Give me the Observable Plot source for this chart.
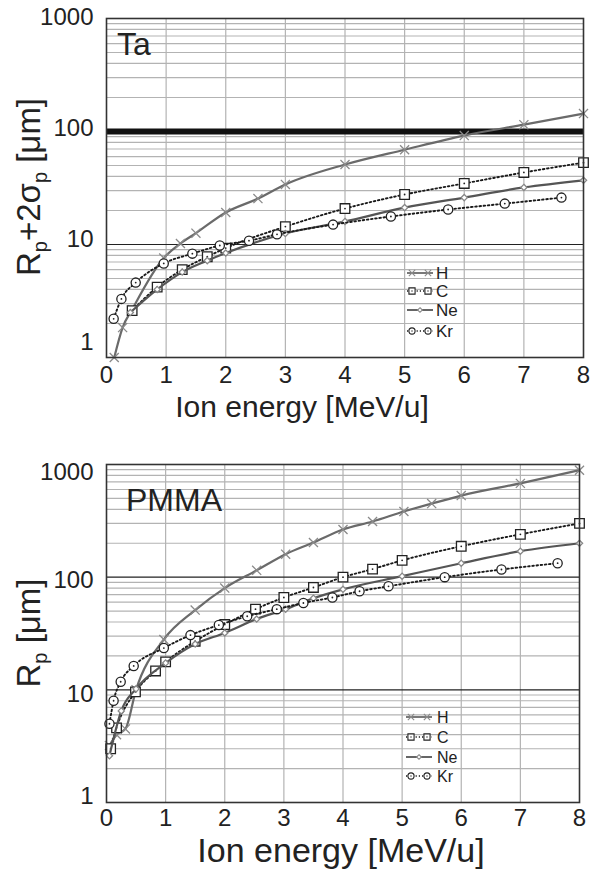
<!DOCTYPE html>
<html><head><meta charset="utf-8">
<script src="https://cdn.jsdelivr.net/npm/d3@7"></script>
<script src="https://cdn.jsdelivr.net/npm/@observablehq/plot@0.6"></script>
<style>
body{margin:0;background:#fff;}
#wrap{position:relative;width:593px;height:876px;font-family:"Liberation Sans",Arial,sans-serif;}
#wrap svg{display:block;}
</style></head><body><div id="wrap"></div>
<script>
// ---- tick / grid values ----
const energyTicks = [0,1,2,3,4,5,6,7,8];
const gridX = [1,2,3,4,5,6,7];
const minorY = [2,3,4,5,6,7,8,9,20,30,40,50,60,70,80,90,200,300,400,500,600,700,800,900];
const seriesNames = ["H","C","Ne","Kr"];

// ---- Ta panel (Rp + 2σp, µm) ----
const taH_E  = [0.13,0.27,0.43,0.96,1.24,1.5,2.0,2.54,3.0,4.0,5.0,6.0,7.0,8.0];
const taH_R  = [1.0,1.84,2.66,7.6,10.2,12.6,19.2,25.5,34,51,69,92,115,144];
const taC_E  = [0.43,0.85,1.27,1.69,2.0,3.0,4.0,5.0,6.0,7.0,8.0];
const taC_R  = [2.6,4.2,6.0,7.8,9.3,14.4,20.8,27.7,34.7,43.4,53];
const taNe_E = [0.4,0.85,1.27,1.69,2.0,3.0,4.0,5.0,6.0,7.0,8.0];
const taNe_R = [2.5,4.0,5.7,7.2,8.4,12.5,16,21.2,26,32,37];
const taKr_E = [0.12,0.25,0.49,0.96,1.44,1.9,2.39,2.86,3.8,4.77,5.73,6.68,7.63];
const taKr_R = [2.2,3.3,4.6,6.8,8.3,9.8,10.8,12.3,15,17.7,20.4,23,26];
const taLimit = [100];

// ---- PMMA panel (Rp, µm) ----
const pmH_E  = [0.05,0.17,0.32,0.5,0.97,1.5,2.0,2.54,3.03,3.5,4.0,4.5,5.03,5.5,6.0,7.0,8.0];
const pmH_R  = [3.2,4.0,4.5,10,28,51,80,115,160,203,265,312,383,450,530,680,890];
const pmC_E  = [0.07,0.17,0.49,0.83,1.0,1.5,2.0,2.52,3.0,3.5,4.0,4.5,5.0,6.0,7.0,8.0];
const pmC_R  = [3.0,4.6,9.6,14.7,17.7,27,38,52,66,81,100,118,141,188,240,300];
const pmNe_E = [0.05,0.25,0.5,1.0,1.5,2.0,2.54,3.03,3.5,4.0,5.0,6.0,7.0,8.0];
const pmNe_R = [2.6,6.5,10.2,17.3,25.5,32,42.5,52,65,78,102,133,170,200];
const pmKr_E = [0.05,0.12,0.24,0.46,0.97,1.42,1.9,2.38,2.88,3.33,3.82,4.28,4.77,5.72,6.68,7.63];
const pmKr_R = [5.0,8.0,11.8,16.3,23.5,30.6,37.6,45,52,59,66,75,83,100,117,133];

const rows = (E, R) => E.map((e, i) => ({E: e, R: R[i]}));

const FONT = '"Liberation Sans", Arial, sans-serif';
const styles = {
  H:  {stroke:"#6a6a6a", w:2.2, dash:null, symbol:"times", r:4.2, fill:"none", ms:"#8a8a8a", center:false, lsym:d3.symbolTimes, lsize:28},
  C:  {stroke:"#1a1a1a", w:1.9, dash:"1.6 2.6", symbol:"square", r:5.4, fill:"white", ms:"#222", center:true, lsym:d3.symbolSquare, lsize:38},
  Ne: {stroke:"#555", w:2.2, dash:null, symbol:"diamond2", r:2.8, fill:"white", ms:"#888", center:false, lsym:d3.symbolDiamond2, lsize:14},
  Kr: {stroke:"#1a1a1a", w:1.9, dash:"1.6 2.6", symbol:"circle", r:4.6, fill:"white", ms:"#222", center:true, lsym:d3.symbolCircle, lsize:30}
};

function panel(cfg) {
  const marks = [
    Plot.ruleY(minorY, {stroke:"#b3b3b3", strokeWidth:1.2}),
    Plot.ruleX(gridX, {stroke:"#b3b3b3", strokeWidth:1.2}),
    Plot.ruleY(cfg.darkY, {stroke:"#222", strokeWidth:1.2}),
    ...(cfg.extra || [])
  ];
  for (const name of seriesNames) {
    const s = styles[name], data = cfg.series[name];
    marks.push(Plot.line(data, {x:"E", y:"R", stroke:s.stroke, strokeWidth:s.w, strokeDasharray:s.dash, curve:"monotone-x"}));
    marks.push(Plot.dot(data, {x:"E", y:"R", symbol:s.symbol, r:s.r, fill:s.fill, stroke:s.ms, strokeWidth:1.3}));
    if (s.center) marks.push(Plot.dot(data, {x:"E", y:"R", r:0.9, fill:"#222"}));
  }
  marks.push(Plot.frame({stroke:"#333", strokeWidth:1.6}));
  marks.push(Plot.axisX(energyTicks, {tickSize:0, tickPadding:cfg.xPad, fontSize:24, label:null, tickFormat:d => String(d)}));
  for (const [ticks, dy] of cfg.yTickGroups) {
    marks.push(Plot.axisY(ticks, {tickSize:0, tickPadding:13, fontSize:24, dy, label:null, tickFormat:d => String(d)}));
  }
  return Plot.plot({
    width:593, height:cfg.height,
    marginLeft:106, marginRight:cfg.marginRight, marginTop:cfg.marginTop, marginBottom:cfg.marginBottom,
    x:{domain:[0,8], axis:null},
    y:{type:"log", domain:[1,1000], axis:null},
    style:{fontFamily:FONT, color:"#222", background:"white", overflow:"visible"},
    marks
  });
}

function decorate(svg, cfg) {
  const g = d3.select(svg).append("g").attr("font-family", FONT).attr("fill", "#222").attr("text-anchor", "start");
  const yt = g.append("text").attr("transform", `translate(${cfg.yTitleX},${cfg.yTitleY}) rotate(-90)`)
    .attr("text-anchor", "middle").attr("font-size", 33);
  for (const part of cfg.yTitle) {
    if (part.sub) {
      yt.append("tspan").attr("font-size", 20).attr("dy", 7).text(part.t);
    } else {
      yt.append("tspan").attr("dy", part.after ? -7 : 0).text(part.t);
    }
  }
  g.append("text").attr("x", cfg.xTitleX).attr("y", cfg.xTitleY).attr("text-anchor", "middle")
    .attr("font-size", cfg.xTitleSize).text("Ion energy [MeV/u]");
  g.append("text").attr("x", cfg.labelX).attr("y", cfg.labelY).attr("text-anchor", "start")
    .attr("font-size", 32).text(cfg.label);
  const lg = g.append("g");
  seriesNames.forEach((name, i) => {
    const s = styles[name], y = cfg.legendY[i];
    const [x1, x2] = cfg.legendSym;
    lg.append("line").attr("x1", x1 - 5).attr("x2", x2 + 5).attr("y1", y).attr("y2", y)
      .attr("stroke", s.stroke).attr("stroke-width", s.dash ? 1.4 : 1.8)
      .attr("stroke-dasharray", s.dash ? "1.2 2" : null);
    const xs = name === "Ne" ? [(x1 + x2) / 2] : [x1, x2];
    for (const x of xs) {
      lg.append("path").attr("d", d3.symbol(s.lsym, s.lsize)())
        .attr("transform", `translate(${x},${y})`)
        .attr("fill", s.fill === "none" ? "none" : "white")
        .attr("stroke", s.ms).attr("stroke-width", 1.1);
      if (s.center) lg.append("circle").attr("cx", x).attr("cy", y).attr("r", 0.7).attr("fill", "#222");
    }
    lg.append("text").attr("x", cfg.legendTextX).attr("y", y).attr("dy", "0.36em")
      .attr("text-anchor", "start").attr("font-size", cfg.legendSize).text(name);
  });
}

const wrap = document.getElementById("wrap");

const topPanel = panel({
  height:430, marginTop:18, marginBottom:73, marginRight:10, xPad:8,
  darkY:[10],
  extra:[Plot.ruleY(taLimit, {stroke:"#111", strokeWidth:6})],
  yTickGroups:[[[1],-15],[[10],-5],[[100],-3],[[1000],-1]],
  series:{H:rows(taH_E,taH_R), C:rows(taC_E,taC_R), Ne:rows(taNe_E,taNe_R), Kr:rows(taKr_E,taKr_R)}
});
wrap.appendChild(topPanel);
decorate(topPanel, {
  yTitleX:40, yTitleY:187,
  yTitle:[{t:"R"},{t:"p",sub:true},{t:"+2σ",after:true},{t:"p",sub:true},{t:" [μm]",after:true}],
  xTitleX:302, xTitleY:417, xTitleSize:30,
  label:"Ta", labelX:117, labelY:55,
  legendY:[273,291,310,331], legendSym:[412,428], legendTextX:436, legendSize:17
});

const bottomPanel = panel({
  height:446, marginTop:34, marginBottom:74, marginRight:14, xPad:6,
  darkY:[10,100],
  extra:[],
  yTickGroups:[[[1],-6],[[10],4],[[100],3],[[1000],8]],
  series:{H:rows(pmH_E,pmH_R), C:rows(pmC_E,pmC_R), Ne:rows(pmNe_E,pmNe_R), Kr:rows(pmKr_E,pmKr_R)}
});
wrap.appendChild(bottomPanel);
decorate(bottomPanel, {
  yTitleX:40, yTitleY:203,
  yTitle:[{t:"R"},{t:"p",sub:true},{t:" [μm]",after:true}],
  xTitleX:341, xTitleY:432, xTitleSize:34,
  label:"PMMA", labelX:126, labelY:81,
  legendY:[287,307,327,346], legendSym:[411,427], legendTextX:437, legendSize:16
});
</script></body></html>
